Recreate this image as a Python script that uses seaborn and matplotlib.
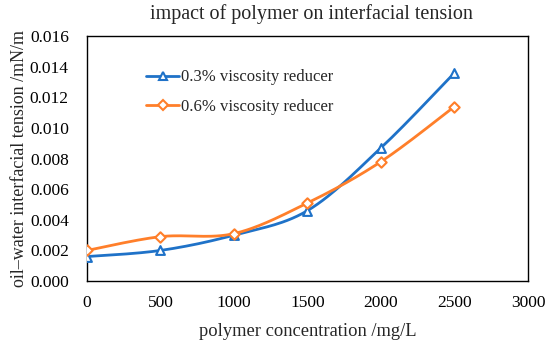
import numpy as np
import pandas as pd
import matplotlib
matplotlib.use("Agg")
import matplotlib.pyplot as plt
import seaborn as sns

# data
concentration = [0, 500, 1000, 1500, 2000, 2500]
ift_03 = [0.0016, 0.0020, 0.0030, 0.0046, 0.0087, 0.0136]
ift_06 = [0.0020, 0.0029, 0.0031, 0.0051, 0.0078, 0.0114]
series_names = ["0.3% viscosity reducer", "0.6% viscosity reducer"]
colors = ["#1f72c8", "#ff7f2a"]
markers = ["^", "D"]

sns.set_style("white")
plt.rcParams["font.family"] = ["Liberation Serif", "DejaVu Serif"]


def smooth(x, y, n=30):
    # Excel-like smoothed line: cubic Bezier through points (Catmull-Rom style)
    x = np.asarray(x, float)
    y = np.asarray(y, float)
    px, py = [], []
    for i in range(len(x) - 1):
        i0 = max(i - 1, 0)
        i3 = min(i + 2, len(x) - 1)
        c1x = x[i] + (x[i + 1] - x[i0]) / 6
        c1y = y[i] + (y[i + 1] - y[i0]) / 6
        c2x = x[i + 1] - (x[i3] - x[i]) / 6
        c2y = y[i + 1] - (y[i3] - y[i]) / 6
        t = np.linspace(0, 1, n)
        bx = (1 - t) ** 3 * x[i] + 3 * (1 - t) ** 2 * t * c1x + 3 * (1 - t) * t ** 2 * c2x + t ** 3 * x[i + 1]
        by = (1 - t) ** 3 * y[i] + 3 * (1 - t) ** 2 * t * c1y + 3 * (1 - t) * t ** 2 * c2y + t ** 3 * y[i + 1]
        px.extend(bx)
        py.extend(by)
    return np.array(px), np.array(py)


df = pd.DataFrame({
    "concentration": concentration * 2,
    "ift": ift_03 + ift_06,
    "series": [series_names[0]] * 6 + [series_names[1]] * 6,
})

fig, ax = plt.subplots(figsize=(5.5, 3.47), dpi=100)

for name, col, mk in zip(series_names, colors, markers):
    sub = df[df["series"] == name]
    sx, sy = smooth(sub["concentration"], sub["ift"])
    ax.plot(sx, sy, color=col, lw=2, zorder=2)
    ax.plot([], [], color=col, lw=2, marker=mk, markersize=6 if mk == "^" else 5,
            markerfacecolor="white", markeredgecolor=col, markeredgewidth=1.5, label=name)
    sns.scatterplot(data=sub, x="concentration", y="ift", ax=ax, marker=mk,
                    s=40 if mk == "^" else 28, facecolor="white", edgecolor=col,
                    linewidth=1.5, zorder=3, legend=False)

ax.set_xlim(0, 3000)
ax.set_ylim(0, 0.016)
ax.set_xticks(np.arange(0, 3001, 500))
ax.set_yticks(np.arange(0, 0.0161, 0.002))
ax.yaxis.set_major_formatter(matplotlib.ticker.FormatStrFormatter("%.3f"))
ax.tick_params(direction="in", length=4, width=1, labelsize=12.5, colors="black")
ax.tick_params(axis="y", pad=13)
ax.tick_params(axis="x", pad=10)
for s in ax.spines.values():
    s.set_color("black")
    s.set_linewidth(1)

ax.set_title("impact of polymer on interfacial tension", fontsize=14.5, pad=12, x=0.51)
ax.set_xlabel("polymer concentration /mg/L", fontsize=13.3, labelpad=9)
ax.set_ylabel("oil\u2013water interfacial tension /mN/m", fontsize=13, labelpad=1)

ax.legend(loc="upper left", bbox_to_anchor=(0.1, 0.925), frameon=False, fontsize=12,
          handlelength=2.0, handletextpad=0.1, labelspacing=0.8)

plt.subplots_adjust(left=0.158, right=0.96, top=0.896, bottom=0.19)
plt.savefig("out.png", dpi=100)
